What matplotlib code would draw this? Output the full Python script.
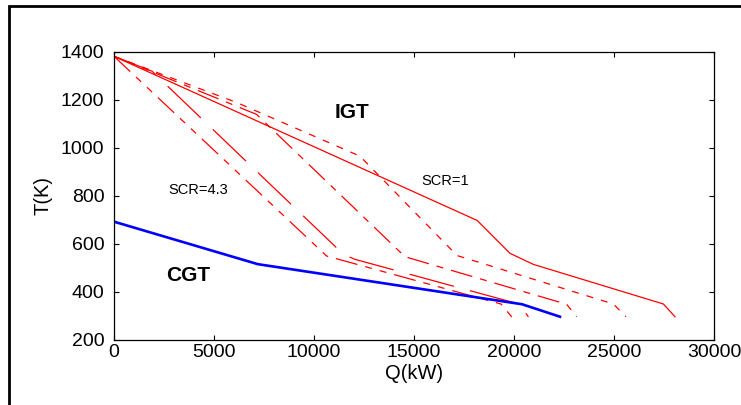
import matplotlib
matplotlib.use('Agg')
import matplotlib.pyplot as plt
from matplotlib.patches import Rectangle

plt.rcParams['font.family'] = ['Liberation Sans', 'DejaVu Sans']
plt.rcParams['lines.scale_dashes'] = False

# CGT curve (blue)
cgt_q = [0, 7190, 20400, 22300]
cgt_t = [693, 516, 349, 297]

# IGT curves (red), from SCR=4.3 to SCR=1
igt_a_q = [0, 10630, 19350, 19890]
igt_a_t = [1382, 550, 350, 296]

igt_b_q = [0, 1900, 11470, 12050, 20290, 20720]
igt_b_t = [1382, 1320, 557, 536, 349, 296]

igt_c_q = [0, 7130, 14550, 22630, 23130]
igt_c_t = [1382, 1140, 547, 349, 297]

igt_d_q = [0, 6150, 12300, 17150, 24970, 25600]
igt_d_t = [1382, 1189, 966, 552, 350, 297]

igt_e_q = [0, 18160, 19800, 20970, 27470, 28050]
igt_e_t = [1382, 698, 561, 515, 350, 297]

x_ticks = [0, 5000, 10000, 15000, 20000, 25000, 30000]
y_ticks = [200, 400, 600, 800, 1000, 1200, 1400]

fig = plt.figure(figsize=(7.41, 4.05), dpi=100)
ax = fig.add_axes([114 / 741, 1 - 340 / 405, 600 / 741, 288 / 405])

red = '#ff0000'
lw = 0.9
ax.plot(igt_a_q, igt_a_t, color=red, lw=lw, dashes=(16, 5.8, 5, 5.8, 5, 5.8))
ax.plot(igt_b_q, igt_b_t, color=red, lw=lw, dashes=(33, 12))
ax.plot(igt_c_q, igt_c_t, color=red, lw=lw, dashes=(16, 5.8, 5, 5.8))
ax.plot(igt_d_q, igt_d_t, color=red, lw=lw, dashes=(5, 5.8))
ax.plot(igt_e_q, igt_e_t, color=red, lw=lw)

ax.plot(cgt_q, cgt_t, color='#0000ff', lw=1.9)

ax.set_xlim(0, 30000)
ax.set_ylim(200, 1400)
ax.set_xticks(x_ticks)
ax.set_yticks(y_ticks)
ax.tick_params(direction='in', length=3.5, top=True, right=True,
               labelsize=14, pad=3)
ax.tick_params(axis='y', pad=7)
for s in ax.spines.values():
    s.set_linewidth(0.9)

ax.set_xlabel('Q(kW)', fontsize=14.5, labelpad=2)
ax.set_ylabel('T(K)', fontsize=14.5, labelpad=6)

ax.text(11900, 1147, 'IGT', fontsize=15, fontweight='bold', ha='center', va='center')
ax.text(3700, 468, 'CGT', fontsize=15, fontweight='bold', ha='center', va='center')
ax.text(4225, 825, 'SCR=4.3', fontsize=10.5, ha='center', va='center')
ax.text(16580, 864, 'SCR=1', fontsize=10.5, ha='center', va='center')

# outer frame, running past the right and bottom edges
fig.patches.append(Rectangle((8.5 / 741, -0.1), 1.2, 1.1 - 6.5 / 405,
                             transform=fig.transFigure, fill=False,
                             edgecolor='black', lw=2))

fig.savefig('out.png', dpi=100)
